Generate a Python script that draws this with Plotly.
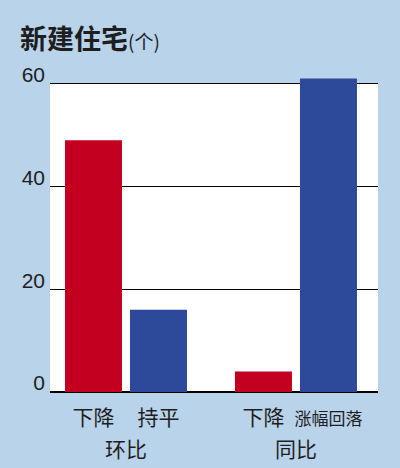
import plotly.graph_objects as go

# data
bar_labels = ["下降", "持平", "下降", "涨幅回落"]
bar_values = [49, 16, 4, 61]
bar_pos = [0, 1, 2.615, 3.615]
group_labels = ["环比", "同比"]
group_pos = [0.5, 3.115]
y_ticks = [0, 20, 40, 60]

red = "#c30020"
blue = "#2c4a99"
bg = "#b9d3eb"
ink = "#1e1e1e"

colors = [red, blue, red, blue]
x_range = [-0.669, 4.377]
y_top = 61.5

fig = go.Figure()

# white plotting panel only up to the 60 line, the tall bar sticks out above it
fig.add_shape(type="rect", xref="x", yref="y",
              x0=x_range[0], x1=x_range[1], y0=0, y1=y_ticks[-1],
              fillcolor="white", line_width=0, layer="below")

fig.add_trace(go.Bar(
    x=bar_pos, y=bar_values,
    width=0.877,
    marker=dict(color=colors, line=dict(width=0)),
    hoverinfo="skip",
))

# dummy trace so the second x axis (group labels) is drawn
fig.add_trace(go.Scatter(x=group_pos, y=[0, 0], xaxis="x2", mode="markers",
                         marker=dict(opacity=0), hoverinfo="skip", showlegend=False))

ticktext = [t if len(t) <= 2 else "<span style='font-size:17px'>%s</span>" % t
            for t in bar_labels]

fig.update_layout(
    width=400, height=468,
    margin=dict(l=50, r=22, t=76, b=76),
    paper_bgcolor=bg,
    plot_bgcolor=bg,
    showlegend=False,
    font=dict(family="Noto Sans CJK SC", color=ink, size=20),
    title=dict(
        text="<b>新建住宅</b><span style='font-size:19px'>(个)</span>",
        x=0.05, xref="container", xanchor="left",
        y=1 - 40 / 468, yref="container", yanchor="middle",
        font=dict(size=27, family="Noto Sans CJK SC", color=ink),
    ),
    xaxis=dict(
        range=x_range, automargin=False,
        tickvals=bar_pos, ticktext=ticktext,
        showgrid=False, zeroline=False, showline=False,
        ticks="", ticklabelstandoff=11,
        tickfont=dict(size=21, family="Noto Sans CJK SC"),
    ),
    xaxis2=dict(
        range=x_range, overlaying="x", side="bottom",
        anchor="free", position=0, automargin=False,
        tickvals=group_pos, ticktext=group_labels,
        showgrid=False, zeroline=False, showline=False,
        ticks="", ticklabelstandoff=43,
        tickfont=dict(size=21, family="Noto Sans CJK SC"),
    ),
    yaxis=dict(
        range=[0, y_top], automargin=False,
        tickvals=y_ticks,
        showgrid=True, gridcolor="black", gridwidth=1.2,
        zeroline=True, zerolinecolor="black", zerolinewidth=1.5,
        showline=False, ticks="",
        ticklabelstandoff=4, ticklabelshift=-9,
        tickfont=dict(size=21, family="Liberation Sans"),
    ),
)

fig.write_html("out.html", config={"displayModeBar": False},
               post_script="document.body.style.margin='0';")
